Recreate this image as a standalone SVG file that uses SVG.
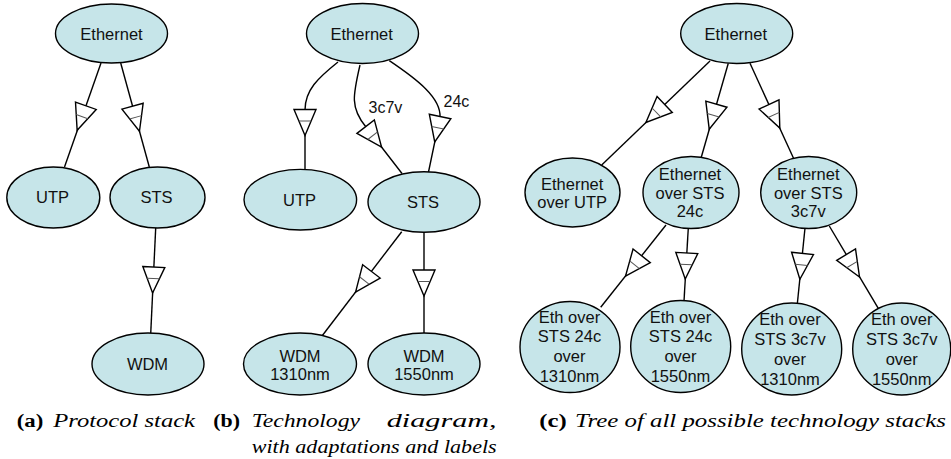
<svg xmlns="http://www.w3.org/2000/svg" xmlns:xlink="http://www.w3.org/1999/xlink" width="951" height="459" viewBox="0 0 951 459">
  <style>
    .node ellipse { fill: #c6e5e9; stroke: #000; stroke-width: 1.4; }
    .node text, .lbl { font-family: "Liberation Sans", Arial, sans-serif; font-size: 16.5px; fill: #111; text-anchor: middle; }
    .lbl { text-anchor: start; font-size: 16px; }
    .edge { fill: none; stroke: #000; stroke-width: 1.4; }
    .cap { font-family: "Liberation Serif", "Times New Roman", serif; font-size: 18px; fill: #000; }
    .cap .b { font-weight: bold; }
    .cap .i { font-style: italic; }
  </style>
  <defs>
    <!-- open adaptation arrowhead with an inner bar, pointing along +y, centred on 0,0 -->
    <g id="adapt">
      <polygon points="-11,-13 11,-13 0,13" fill="#fff" stroke="#000" stroke-width="1.4" stroke-linejoin="miter"/>
      <line x1="-6.2" y1="-1.5" x2="6.2" y2="-1.5" stroke="#555" stroke-width="1"/>
    </g>
  </defs>

  <rect width="951" height="459" fill="#fff"/>

  <!-- connectors -->
  <g id="connectors">
    <!-- (a) protocol stack -->
    <line class="edge" x1="101" y1="63" x2="64.5" y2="167"/>
    <use xlink:href="#adapt" transform="translate(81.5,118) rotate(19.6)"/>
    <line class="edge" x1="120.7" y1="63" x2="149.3" y2="167"/>
    <use xlink:href="#adapt" transform="translate(136,118.7) rotate(-15.4)"/>
    <line class="edge" x1="155.7" y1="228" x2="150.7" y2="334"/>
    <use xlink:href="#adapt" transform="translate(153.2,280) rotate(2.7)"/>

    <!-- (b) technology diagram -->
    <path class="edge" d="M338,62 C318,78 305,90 305,110 L305,170"/>
    <use xlink:href="#adapt" transform="translate(305,122.5)"/>
    <path class="edge" d="M360,65 C353,95 350,108 366,127 L402,173.5"/>
    <use xlink:href="#adapt" transform="translate(373.6,136.9) rotate(-37.7)"/>
    <path class="edge" d="M389.3,60.7 C418,80 441,98 440,117 L428.3,173"/>
    <use xlink:href="#adapt" transform="translate(437.4,129.2) rotate(11.9)"/>
    <line class="edge" x1="401.7" y1="231.7" x2="322" y2="336"/>
    <use xlink:href="#adapt" transform="translate(363.5,281.7) rotate(37.4)"/>
    <line class="edge" x1="424" y1="232" x2="424" y2="334"/>
    <use xlink:href="#adapt" transform="translate(424,283)"/>
    <text class="lbl" x="368.5" y="113.3">3c7v</text>
    <text class="lbl" x="443.5" y="106.7">24c</text>

    <!-- (c) tree of stacks -->
    <line class="edge" x1="710" y1="61" x2="601.7" y2="165"/>
    <use xlink:href="#adapt" transform="translate(655.3,113.5) rotate(46.2)"/>
    <line class="edge" x1="728.3" y1="63.3" x2="700.7" y2="159.3"/>
    <use xlink:href="#adapt" transform="translate(712.8,116.7) rotate(16)"/>
    <line class="edge" x1="750" y1="63.3" x2="794" y2="159.3"/>
    <use xlink:href="#adapt" transform="translate(774.4,116.3) rotate(-24.6)"/>
    <line class="edge" x1="666" y1="225" x2="600.7" y2="307.3"/>
    <use xlink:href="#adapt" transform="translate(633.6,266) rotate(38.4)"/>
    <line class="edge" x1="688.3" y1="228" x2="684" y2="301"/>
    <use xlink:href="#adapt" transform="translate(686,266) rotate(3.4)"/>
    <line class="edge" x1="805" y1="228" x2="797.3" y2="304"/>
    <use xlink:href="#adapt" transform="translate(801.2,266.3) rotate(5.9)"/>
    <line class="edge" x1="829.3" y1="226" x2="878.3" y2="308.3"/>
    <use xlink:href="#adapt" transform="translate(852.8,265.8) rotate(-31)"/>
  </g>

  <!-- (a) nodes -->
  <g id="a-ethernet" class="node"><ellipse cx="111.5" cy="33.5" rx="56" ry="29.5"/><text x="111.5" y="39.5">Ethernet</text></g>
  <g id="a-utp" class="node"><ellipse cx="53.3" cy="197.5" rx="46.5" ry="30.5"/><text x="52.5" y="203.3">UTP</text></g>
  <g id="a-sts" class="node"><ellipse cx="157.5" cy="197.5" rx="47.5" ry="30.5"/><text x="156.5" y="203.3">STS</text></g>
  <g id="a-wdm" class="node"><ellipse cx="148" cy="364" rx="56" ry="31"/><text x="147.5" y="370">WDM</text></g>

  <!-- (b) nodes -->
  <g id="b-ethernet" class="node"><ellipse cx="362.5" cy="33.5" rx="56" ry="30"/><text x="361.7" y="40">Ethernet</text></g>
  <g id="b-utp" class="node"><ellipse cx="300.3" cy="199.7" rx="56.3" ry="30.3"/><text x="299.5" y="205.5">UTP</text></g>
  <g id="b-sts" class="node"><ellipse cx="424" cy="202" rx="56" ry="30.3"/><text x="423" y="207.5">STS</text></g>
  <g id="b-wdm1310" class="node"><ellipse cx="300" cy="364" rx="56.5" ry="31"/><text x="300" y="361.7">WDM</text><text x="300" y="380">1310nm</text></g>
  <g id="b-wdm1550" class="node"><ellipse cx="424" cy="364" rx="56" ry="31"/><text x="424" y="361.7">WDM</text><text x="424" y="380">1550nm</text></g>

  <!-- (c) nodes -->
  <g id="c-ethernet" class="node"><ellipse cx="736.7" cy="33.5" rx="56" ry="30"/><text x="735.8" y="40">Ethernet</text></g>
  <g id="c-eth-utp" class="node"><ellipse cx="572.5" cy="192.5" rx="47.5" ry="34.5"/><text x="572.2" y="190">Ethernet</text><text x="572.2" y="208">over UTP</text></g>
  <g id="c-eth-sts24c" class="node"><ellipse cx="691" cy="192.5" rx="48" ry="36"/><text x="690" y="180">Ethernet</text><text x="690" y="198.5">over STS</text><text x="690" y="217">24c</text></g>
  <g id="c-eth-sts3c7v" class="node"><ellipse cx="808.7" cy="192.5" rx="48" ry="36"/><text x="808.3" y="180">Ethernet</text><text x="808.3" y="198.5">over STS</text><text x="808.3" y="217">3c7v</text></g>
  <g id="c-24c-1310" class="node"><ellipse cx="570" cy="347" rx="50" ry="45.5"/><text x="569.5" y="323.3">Eth over</text><text x="569.5" y="342">STS 24c</text><text x="569.5" y="361.5">over</text><text x="569.5" y="381.5">1310nm</text></g>
  <g id="c-24c-1550" class="node"><ellipse cx="680.7" cy="346.5" rx="50" ry="46"/><text x="680.5" y="323.3">Eth over</text><text x="680.5" y="342">STS 24c</text><text x="680.5" y="361.5">over</text><text x="680.5" y="381.5">1550nm</text></g>
  <g id="c-3c7v-1310" class="node"><ellipse cx="791.7" cy="349" rx="50" ry="46"/><text x="790" y="325">Eth over</text><text x="790" y="344.5">STS 3c7v</text><text x="790" y="364.5">over</text><text x="790" y="384.5">1310nm</text></g>
  <g id="c-3c7v-1550" class="node"><ellipse cx="901.7" cy="349" rx="49" ry="46"/><text x="901.7" y="325">Eth over</text><text x="901.7" y="344.5">STS 3c7v</text><text x="901.7" y="364.5">over</text><text x="901.7" y="384.5">1550nm</text></g>

  <!-- sub-figure captions -->
  <g id="captions" class="cap">
    <text class="b" x="16.7" y="427" textLength="26.6" lengthAdjust="spacingAndGlyphs">(a)</text>
    <text class="i" x="53.3" y="427" textLength="141.7" lengthAdjust="spacingAndGlyphs">Protocol stack</text>
    <text class="b" x="213.3" y="427" textLength="26.7" lengthAdjust="spacingAndGlyphs">(b)</text>
    <text class="i" x="251.7" y="427" textLength="108.3" lengthAdjust="spacingAndGlyphs">Technology</text>
    <text class="i" x="386.7" y="427" textLength="110" lengthAdjust="spacingAndGlyphs">diagram,</text>
    <text class="i" x="251.7" y="453.3" textLength="245" lengthAdjust="spacingAndGlyphs">with adaptations and labels</text>
    <text class="b" x="539.3" y="427" textLength="27.4" lengthAdjust="spacingAndGlyphs">(c)</text>
    <text class="i" x="575" y="427" textLength="371" lengthAdjust="spacingAndGlyphs">Tree of all possible technology stacks</text>
  </g>
</svg>
